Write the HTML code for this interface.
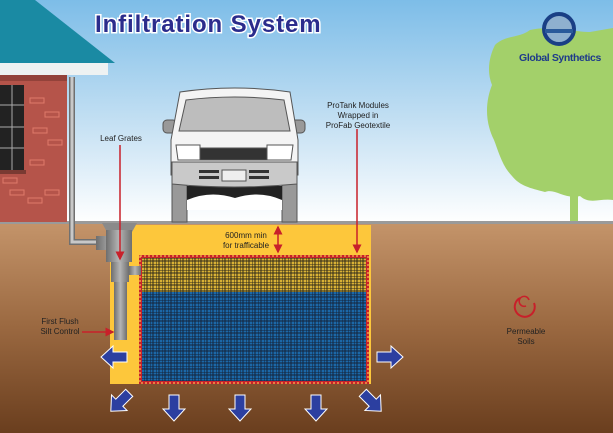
<!DOCTYPE html>
<html><head><meta charset="utf-8"><style>
html,body{margin:0;padding:0;width:613px;height:433px;overflow:hidden;background:#fff}
svg{display:block}
text{font-family:"Liberation Sans",sans-serif}
</style></head><body>
<svg width="613" height="433" viewBox="0 0 613 433" xmlns="http://www.w3.org/2000/svg">
<defs>
<linearGradient id="sky" x1="0" y1="0" x2="0" y2="1"><stop offset="0" stop-color="#7dbde8"/><stop offset="0.55" stop-color="#c4e0f3"/><stop offset="1" stop-color="#ffffff"/></linearGradient>
<linearGradient id="soil" x1="0" y1="0" x2="0" y2="1"><stop offset="0" stop-color="#c4946a"/><stop offset="0.5" stop-color="#9a6840"/><stop offset="1" stop-color="#6a3e1e"/></linearGradient>
<linearGradient id="pipe" x1="0" y1="0" x2="1" y2="0"><stop offset="0" stop-color="#6e6e6e"/><stop offset="0.5" stop-color="#b5b5b5"/><stop offset="1" stop-color="#6e6e6e"/></linearGradient>
<pattern id="gy" width="6" height="6" patternUnits="userSpaceOnUse"><rect width="6" height="6" fill="#d9b236"/><path d="M0 0H6M0 3H6M0 0V6M3 0V6" stroke="#2e2a1a" stroke-width="1"/></pattern>
<pattern id="gb" width="6" height="6" patternUnits="userSpaceOnUse"><rect width="6" height="6" fill="#1c68a8"/><path d="M0 0H6M0 3H6M0 0V6M3 0V6" stroke="#15243a" stroke-width="1"/></pattern>
<marker id="ar" markerWidth="6" markerHeight="6" refX="5" refY="3" orient="auto"><path d="M0,0 L6,3 L0,6z" fill="#c8202a"/></marker>
<marker id="as" markerWidth="6" markerHeight="6" refX="1" refY="3" orient="auto"><path d="M6,0 L0,3 L6,6z" fill="#c8202a"/></marker>
<g id="ba"><path d="M-13,-5 H1 V-11 L13,0 L1,11 V5 H-13z" fill="#2c3fa0" stroke="#fff" stroke-width="1"/></g>
</defs>
<rect width="613" height="223" fill="url(#sky)"/>
<rect y="223" width="613" height="210" fill="url(#soil)"/>
<path d="M495,45 C505,35 520,38 530,30 C550,25 575,32 590,32 L613,28 L613,200 C600,198 590,205 580,196 C565,200 555,188 545,192 C530,188 520,186 512,176 C502,166 498,150 494,140 C484,120 486,100 492,85 C486,70 490,55 495,45z" fill="#a3d06a"/>
<rect x="570" y="150" width="8" height="73" fill="#a3d06a"/>
<rect y="221" width="613" height="3" fill="#9a9a9a"/>
<polygon points="0,0 35,0 115,63 0,63" fill="#1a8aa3"/>
<rect x="0" y="63" width="108" height="12" fill="#eef2f2"/>
<rect x="0" y="75" width="67" height="147" fill="#b5544a"/>
<rect x="0" y="75" width="67" height="6" fill="#93423a"/>
<g fill="none" stroke="#e07a6a" stroke-width="1">
<rect x="30" y="98" width="14" height="5"/><rect x="45" y="112" width="14" height="5"/><rect x="33" y="128" width="14" height="5"/><rect x="48" y="140" width="14" height="5"/><rect x="30" y="160" width="14" height="5"/><rect x="10" y="190" width="14" height="5"/><rect x="28" y="198" width="14" height="5"/><rect x="45" y="190" width="14" height="5"/><rect x="3" y="178" width="14" height="5"/>
</g>
<rect x="0" y="85" width="24" height="85" fill="#222"/>
<rect x="0" y="170" width="26" height="4" fill="#7a3a32"/>
<g stroke="#aaa" stroke-width="1"><line x1="0" y1="105" x2="24" y2="105"/><line x1="0" y1="127" x2="24" y2="127"/><line x1="0" y1="148" x2="24" y2="148"/><line x1="12" y1="85" x2="12" y2="170"/></g>
<path d="M72,77 V242 H100" fill="none" stroke="#707070" stroke-width="6"/>
<path d="M72,77 V242 H100" fill="none" stroke="#c8c8c8" stroke-width="3"/>
<rect x="110" y="225" width="261" height="159" fill="#fdc73b"/>
<rect x="139" y="255" width="230" height="129" fill="#c8202a"/>
<rect x="142" y="258" width="224" height="36" fill="url(#gy)"/>
<rect x="142" y="292" width="224" height="89" fill="url(#gb)"/>
<rect x="140" y="256" width="228" height="127" fill="none" stroke="#ffe25a" stroke-width="1" stroke-dasharray="2,2"/>
<path d="M102,223 H137 L132,232 H107z" fill="#8a8a8a"/>
<rect x="96" y="236" width="34" height="14" fill="url(#pipe)"/>
<rect x="106" y="230" width="26" height="32" fill="url(#pipe)"/>
<rect x="111" y="262" width="18" height="20" fill="url(#pipe)"/>
<rect x="129" y="266" width="12" height="9" fill="url(#pipe)"/>
<rect x="114" y="282" width="13" height="58" fill="url(#pipe)"/>
<g stroke="#555" stroke-width="1">
<rect x="172" y="180" width="15" height="42" fill="#999"/>
<rect x="282" y="180" width="15" height="42" fill="#999"/>
<rect x="187" y="186" width="95" height="14" fill="#222" stroke="none"/>
<path d="M187,200 Q210,190 235,198 Q260,190 282,200 V210 H187z" fill="#fff" stroke="none"/>
<rect x="163" y="120" width="14" height="13" rx="4" fill="#999"/>
<rect x="291" y="120" width="14" height="13" rx="4" fill="#999"/>
<path d="M180,92 Q234,84 290,92 L298,140 V175 H171 V140z" fill="#f4f4f4"/>
<path d="M186,100 Q234,94 284,100 L290,131 H179z" fill="#bdbdbd"/>
<rect x="200" y="148" width="67" height="12" fill="#333"/>
<path d="M176,145 H200 V160 H178z" fill="#fff"/>
<path d="M267,145 H293 L291,160 H267z" fill="#fff"/>
<path d="M172,162 H297 V184 Q234,190 172,184z" fill="#c9c9c9"/>
<rect x="222" y="170" width="24" height="11" fill="#eee"/>
</g>
<g fill="#333"><rect x="199" y="170" width="20" height="3"/><rect x="199" y="176" width="20" height="3"/><rect x="249" y="170" width="20" height="3"/><rect x="249" y="176" width="20" height="3"/></g>
<circle cx="559" cy="29" r="15" fill="#8fb0cf" stroke="#1a3f85" stroke-width="4"/>
<path d="M545,31 H573" stroke="#2a5a9a" stroke-width="4"/>
<text x="560" y="61" font-size="10.5" font-weight="bold" fill="#1e3a8a" text-anchor="middle" letter-spacing="-0.4">Global Synthetics</text>
<text x="95" y="32" font-size="24" font-weight="bold" fill="#2b2c8c" stroke="#fff" stroke-width="3" paint-order="stroke" letter-spacing="0.9">Infiltration System</text>
<g font-size="8" fill="#222" text-anchor="middle">
<text x="121" y="141">Leaf Grates</text>
<text x="358" y="108">ProTank Modules</text>
<text x="358" y="118">Wrapped in</text>
<text x="358" y="128">ProFab Geotextile</text>
<text x="246" y="238">600mm min</text>
<text x="246" y="248">for trafficable</text>
<text x="60" y="324">First Flush</text>
<text x="60" y="334">Silt Control</text>
<text x="526" y="334">Permeable</text>
<text x="526" y="344">Soils</text>
</g>
<g stroke="#c8202a" stroke-width="1.5" fill="none">
<line x1="120" y1="145" x2="120" y2="259" marker-end="url(#ar)"/>
<line x1="357" y1="129" x2="357" y2="252" marker-end="url(#ar)"/>
<line x1="278" y1="227" x2="278" y2="252" marker-end="url(#ar)" marker-start="url(#as)"/>
<line x1="82" y1="332" x2="113" y2="332" marker-end="url(#ar)"/>
<path d="M520,298 A10,10 0 1 0 534,303" stroke-width="2"/>
<path d="M526,306 A5,5 0 1 1 529,300" stroke-width="1.5"/>
</g>
<use href="#ba" transform="translate(114,357) rotate(180)"/>
<use href="#ba" transform="translate(390,357)"/>
<use href="#ba" transform="translate(120,402) rotate(135)"/>
<use href="#ba" transform="translate(174,408) rotate(90)"/>
<use href="#ba" transform="translate(240,408) rotate(90)"/>
<use href="#ba" transform="translate(316,408) rotate(90)"/>
<use href="#ba" transform="translate(372,402) rotate(45)"/>
</svg>
</body></html>
